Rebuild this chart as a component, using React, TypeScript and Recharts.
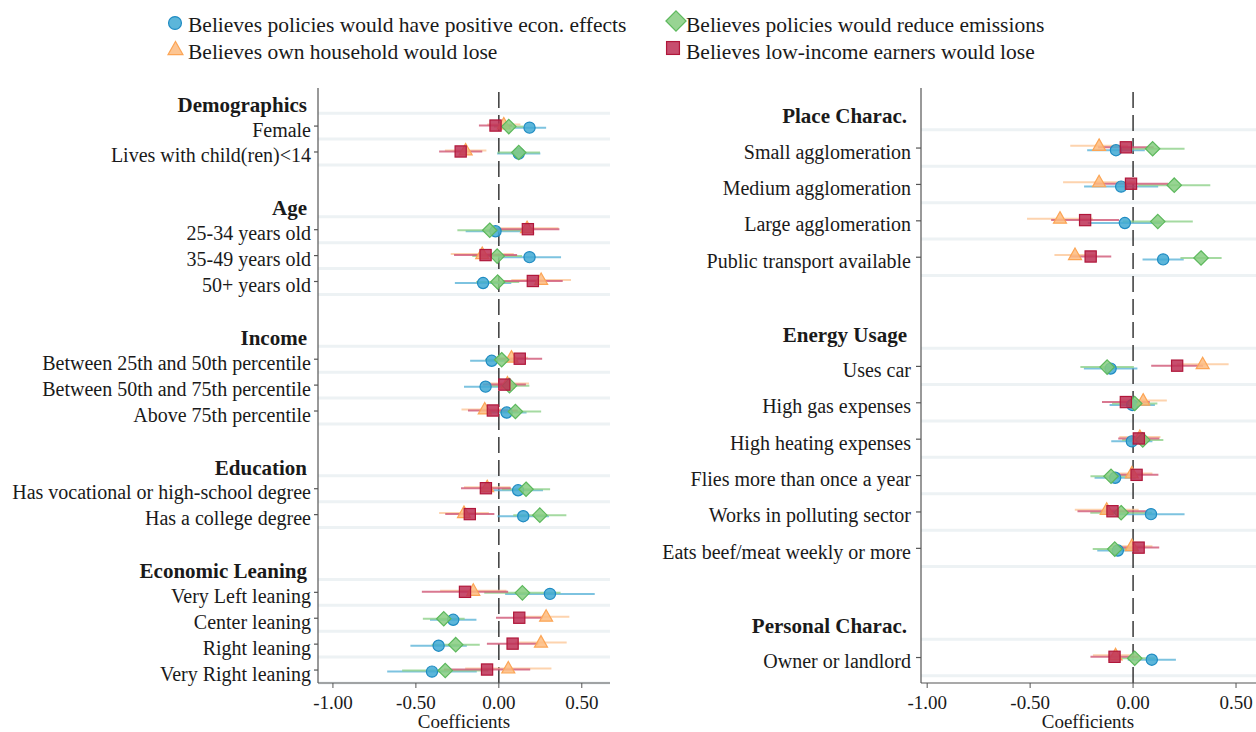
import React from 'react';
import { ScatterChart, Scatter, XAxis, YAxis, ErrorBar, ReferenceLine } from 'recharts';

const FONT = '"Liberation Serif", "Times New Roman", serif';
const INK = '#1a1a1a';
const AXIS = '#555';

// row groups, top to bottom
const demographics = ['Female', 'Lives with child(ren)<14'];
const age = ['25-34 years old', '35-49 years old', '50+ years old'];
const income = ['Between 25th and 50th percentile', 'Between 50th and 75th percentile', 'Above 75th percentile'];
const education = ['Has vocational or high-school degree', 'Has a college degree'];
const leaning = ['Very Left leaning', 'Center leaning', 'Right leaning', 'Very Right leaning'];

const place = ['Small agglomeration', 'Medium agglomeration', 'Large agglomeration', 'Public transport available'];
const energy = ['Uses car', 'High gas expenses', 'High heating expenses', 'Flies more than once a year', 'Works in polluting sector', 'Eats beef/meat weekly or more'];
const personal = ['Owner or landlord'];

const leftSections: [string, string[]][] = [
  ['Demographics', demographics],
  ['Age', age],
  ['Income', income],
  ['Education', education],
  ['Economic Leaning', leaning],
];
const rightSections: [string, string[]][] = [
  ['Place Charac.', place],
  ['Energy Usage', energy],
  ['Personal Charac.', personal],
];

// coefficients and CI half-widths, in row order
const leftEcon = [0.185, 0.12, -0.02, 0.185, -0.095, -0.043, -0.08, 0.047, 0.116, 0.147, 0.308, -0.275, -0.363, -0.403];
const leftEconErr = [0.1, 0.13, 0.18, 0.19, 0.17, 0.13, 0.13, 0.12, 0.15, 0.155, 0.27, 0.14, 0.17, 0.27];
const leftOwn = [0.03, -0.2, 0.17, -0.1, 0.255, 0.076, 0.052, -0.085, -0.07, -0.21, -0.154, 0.285, 0.254, 0.057];
const leftOwnErr = [0.1, 0.125, 0.19, 0.19, 0.18, 0.1, 0.13, 0.14, 0.14, 0.15, 0.2, 0.14, 0.155, 0.26];
const leftEmis = [0.06, 0.12, -0.055, -0.01, -0.007, 0.017, 0.064, 0.1, 0.164, 0.247, 0.142, -0.332, -0.26, -0.323];
const leftEmisErr = [0.09, 0.128, 0.195, 0.15, 0.13, 0.1, 0.12, 0.155, 0.145, 0.16, 0.23, 0.126, 0.145, 0.26];
const leftLow = [-0.02, -0.23, 0.175, -0.08, 0.205, 0.126, 0.033, -0.036, -0.078, -0.175, -0.204, 0.123, 0.083, -0.071];
const leftLowErr = [0.1, 0.13, 0.19, 0.19, 0.18, 0.135, 0.13, 0.15, 0.15, 0.148, 0.26, 0.14, 0.155, 0.26];

const rightEcon = [-0.083, -0.058, -0.04, 0.146, -0.109, -0.004, -0.006, -0.087, 0.087, -0.074, 0.091];
const rightEconErr = [0.14, 0.18, 0.18, 0.1, 0.13, 0.11, 0.1, 0.1, 0.163, 0.1, 0.117];
const rightOwn = [-0.165, -0.165, -0.355, -0.282, 0.338, 0.049, 0.033, -0.006, -0.128, -0.006, -0.085];
const rightOwnErr = [0.14, 0.175, 0.16, 0.1, 0.126, 0.115, 0.1, 0.1, 0.155, 0.1, 0.11];
const rightEmis = [0.095, 0.2, 0.12, 0.33, -0.126, 0.008, 0.047, -0.107, -0.058, -0.089, 0.008];
const rightEmisErr = [0.155, 0.175, 0.17, 0.1, 0.13, 0.11, 0.1, 0.1, 0.15, 0.107, 0.1];
const rightLow = [-0.035, -0.01, -0.233, -0.206, 0.214, -0.035, 0.028, 0.017, -0.1, 0.027, -0.09];
const rightLowErr = [0.135, 0.18, 0.165, 0.1, 0.126, 0.116, 0.1, 0.106, 0.17, 0.1, 0.117];

const xTicks = [-1, -0.5, 0, 0.5];

type Kind = 'circle' | 'triangle' | 'diamond' | 'square';

const SERIES: { name: string; kind: Kind; fill: string; stroke: string; bar: string; dodge: number }[] = [
  { name: 'Believes policies would have positive econ. effects', kind: 'circle', fill: '#3fa9d3', stroke: '#1f8bc2', bar: '#5db4d8', dodge: 0.06 },
  { name: 'Believes own household would lose', kind: 'triangle', fill: '#fdbb7f', stroke: '#fca555', bar: '#fdc89a', dodge: -0.06 },
  { name: 'Believes policies would reduce emissions', kind: 'diamond', fill: '#86cd80', stroke: '#5cb85c', bar: '#8fd18a', dodge: 0.02 },
  { name: 'Believes low-income earners would lose', kind: 'square', fill: '#bd2f55', stroke: '#b0173a', bar: '#cf5675', dodge: -0.02 },
];

function Marker({ cx, cy, kind, fill, stroke, s = 1 }: any) {
  const common = { fill, fillOpacity: 0.85, stroke, strokeWidth: 1.2 };
  if (kind === 'circle') return <circle cx={cx} cy={cy} r={5.6 * s} {...common} />;
  if (kind === 'square') return <rect x={cx - 5.6 * s} y={cy - 5.6 * s} width={11.2 * s} height={11.2 * s} {...common} />;
  if (kind === 'diamond') {
    const d = 7.2 * s;
    return <polygon points={`${cx},${cy - d} ${cx + d},${cy} ${cx},${cy + d} ${cx - d},${cy}`} {...common} />;
  }
  const w = 6.5 * s;
  return <polygon points={`${cx},${cy - 7 * s} ${cx + w},${cy + 4.5 * s} ${cx - w},${cy + 4.5 * s}`} {...common} />;
}

function buildRows(sections: [string, string[]][]) {
  const rows: { pos: number; label: string; header: boolean }[] = [];
  let pos = 0;
  sections.forEach(([title, items]) => {
    rows.push({ pos, label: title, header: true });
    items.forEach((it, i) => rows.push({ pos: pos + 1 + i, label: it, header: false }));
    pos += items.length + 2;
  });
  return rows;
}

function RowTick(props: any) {
  const { x, y, payload, rows, tickSize, tickMargin } = props;
  const row = rows.find((r: any) => r.pos === payload.value);
  if (!row) return null;
  if (row.header) {
    return (
      <text x={x - 4} y={y} dy={11.7} textAnchor="end" fontFamily={FONT} fontSize={21} fontWeight="bold" fill={INK}>
        {row.label}
      </text>
    );
  }
  return (
    <g>
      <line x1={x + tickMargin} x2={x + tickMargin + tickSize} y1={y} y2={y} stroke={AXIS} strokeWidth={1.2} />
      <text x={x} y={y} dy={10.5} textAnchor="end" fontFamily={FONT} fontSize={20} fill={INK}>
        {row.label}
      </text>
    </g>
  );
}

function Panel({ sections, values, width, yWidth, xDomain, yDomain, tickSize, tickMargin, right }: any) {
  const rows = buildRows(sections);
  const items = rows.filter((r) => !r.header);
  const bounds = Array.from(new Set(items.flatMap((r) => [r.pos - 0.5, r.pos + 0.5])));
  return (
    <ScatterChart width={width} height={732} margin={{ top: 88, right, bottom: 0, left: 0 }}>
      <XAxis
        type="number"
        dataKey="x"
        domain={xDomain}
        allowDataOverflow
        ticks={xTicks}
        tickFormatter={(v: number) => v.toFixed(2)}
        height={49}
        tickSize={5}
        tickMargin={8}
        stroke={AXIS}
        axisLine={{ stroke: AXIS, strokeWidth: 1.2 }}
        tick={{ fontSize: 19, fill: INK, fontFamily: FONT }}
      />
      <YAxis
        type="number"
        dataKey="y"
        domain={yDomain}
        allowDataOverflow
        reversed
        width={yWidth}
        ticks={rows.map((r) => r.pos)}
        interval={0}
        tickLine={false}
        tickSize={tickSize}
        tickMargin={tickMargin}
        axisLine={{ stroke: AXIS, strokeWidth: 1.2 }}
        tick={(p: any) => <RowTick {...p} rows={rows} tickSize={tickSize} tickMargin={tickMargin} />}
      />
      {bounds.map((b) => (
        <ReferenceLine key={b} y={b} stroke="#edf2f4" strokeWidth={3} />
      ))}
      <ReferenceLine x={0} stroke="#2b2b2b" strokeWidth={1.4} strokeDasharray="16 7" />
      {SERIES.map((s, si) => {
        const [est, err] = values[si];
        const data = items.map((r, i) => ({ x: est[i], y: r.pos + s.dodge, err: err[i] }));
        return (
          <Scatter
            key={s.name}
            name={s.name}
            data={data}
            isAnimationActive={false}
            shape={(p: any) => <Marker cx={p.cx} cy={p.cy} kind={s.kind} fill={s.fill} stroke={s.stroke} />}
          >
            <ErrorBar dataKey="err" direction="x" width={0} stroke={s.bar} strokeWidth={2} strokeOpacity={0.8} />
          </Scatter>
        );
      })}
    </ScatterChart>
  );
}

function Overlay() {
  const items = [
    { s: SERIES[0], mx: 175, my: 23, tx: 188, ty: 31.5 },
    { s: SERIES[1], mx: 175.5, my: 49.5, tx: 188, ty: 58.5 },
    { s: SERIES[2], mx: 676, my: 21, tx: 686, ty: 31.5 },
    { s: SERIES[3], mx: 673, my: 48, tx: 686, ty: 58.5 },
  ];
  return (
    <svg width={1256} height={732} style={{ position: 'absolute', left: 0, top: 0, pointerEvents: 'none' }}>
      {items.map(({ s, mx, my, tx, ty }) => (
        <g key={s.name}>
          <Marker cx={mx} cy={my} kind={s.kind} fill={s.fill} stroke={s.stroke} s={s.kind === 'diamond' ? 1.4 : 1.15} />
          <text x={tx} y={ty} fontFamily={FONT} fontSize={21.5} fill={INK}>
            {s.name}
          </text>
        </g>
      ))}
      <text x={464} y={728} textAnchor="middle" fontFamily={FONT} fontSize={19} fill={INK}>
        Coefficients
      </text>
      <text x={1088} y={728} textAnchor="middle" fontFamily={FONT} fontSize={19} fill={INK}>
        Coefficients
      </text>
    </svg>
  );
}

export default function App() {
  return (
    <div style={{ position: 'absolute', left: 0, top: 0, width: 1256, height: 732, background: '#fff', overflow: 'hidden' }}>
      <div style={{ position: 'absolute', left: 0, top: 0 }}>
        <Panel
          sections={leftSections}
          values={[[leftEcon, leftEconErr], [leftOwn, leftOwnErr], [leftEmis, leftEmisErr], [leftLow, leftLowErr]]}
          width={620}
          yWidth={318}
          xDomain={[-1.09, 0.67]}
          yDomain={[-0.47, 22.5]}
          tickSize={4}
          tickMargin={3}
          right={10}
        />
      </div>
      <div style={{ position: 'absolute', left: 630, top: 0 }}>
        <Panel
          sections={rightSections}
          values={[[rightEcon, rightEconErr], [rightOwn, rightOwnErr], [rightEmis, rightEmisErr], [rightLow, rightLowErr]]}
          width={626}
          yWidth={291}
          xDomain={[-1.03, 0.597]}
          yDomain={[-0.65, 15.7]}
          tickSize={5}
          tickMargin={5}
          right={0}
        />
      </div>
      <Overlay />
    </div>
  );
}
